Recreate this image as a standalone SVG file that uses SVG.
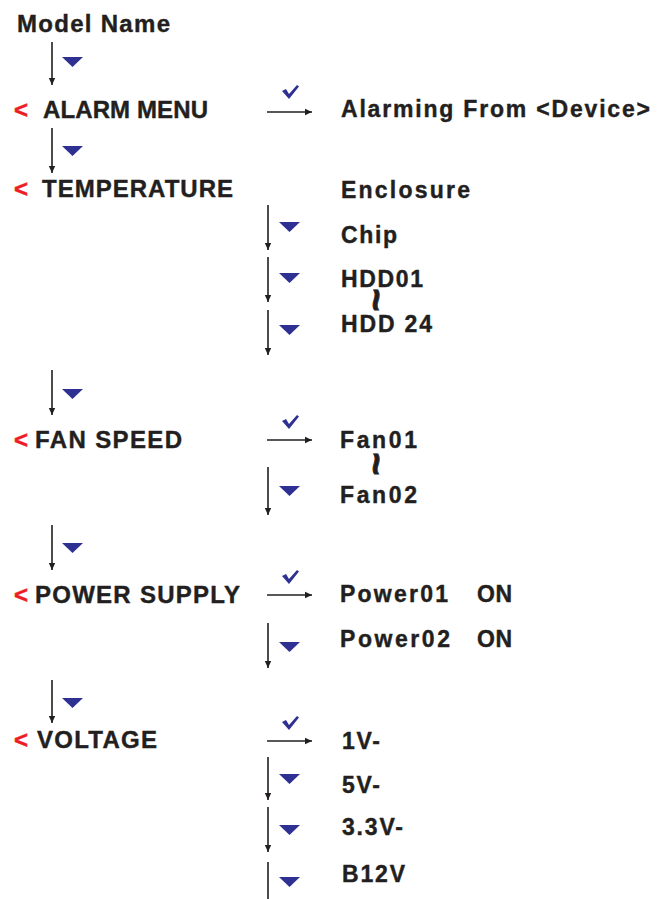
<svg xmlns="http://www.w3.org/2000/svg" width="657" height="899" viewBox="0 0 657 899">
<defs>
<style>
.t{font-family:"Liberation Sans",Arial,sans-serif;font-weight:bold;fill:#231f20;stroke:#231f20;stroke-width:0.4}
.L{font-size:24px}
.R{font-size:23px}
.lt{font-family:"Liberation Sans",Arial,sans-serif;font-weight:bold;font-size:24px;fill:#ed1c24;stroke:#ed1c24;stroke-width:0.5}
.sq{font-family:"Liberation Sans",Arial,sans-serif;font-weight:bold;font-size:40px;fill:#231f20;stroke:#231f20;stroke-width:0.8}
.c{stroke:#231f20;stroke-width:1.6;fill:none;marker-end:url(#ah)}
.tri{fill:#2e3192}
.chk{fill:#2e3192}
</style>
<marker id="ah" markerUnits="userSpaceOnUse" markerWidth="8" markerHeight="8" refX="7" refY="4" orient="auto">
<path d="M0,0.8 L7,4 L0,7.2 z" fill="#231f20"/>
</marker>
<polygon id="down" points="0,0 21,0 10.5,10" class="tri"/>
<path id="check" d="M0,6 L4,4 L7,9 L15,0 L17,1.5 L7,14 Z" class="chk"/>
</defs>
<rect width="657" height="899" fill="#ffffff"/>

<g id="connectors">
<line class="c" x1="52" y1="42" x2="52" y2="85"/>
<line class="c" x1="52" y1="128" x2="52" y2="173"/>
<line class="c" x1="52" y1="370" x2="52" y2="415"/>
<line class="c" x1="52" y1="525" x2="52" y2="570"/>
<line class="c" x1="52" y1="680" x2="52" y2="723"/>
<line class="c" x1="267" y1="112" x2="312" y2="112"/>
<line class="c" x1="267" y1="440" x2="312" y2="440"/>
<line class="c" x1="267" y1="595" x2="312" y2="595"/>
<line class="c" x1="267" y1="741" x2="312" y2="741"/>
<line class="c" x1="268" y1="205" x2="268" y2="250"/>
<line class="c" x1="268" y1="257" x2="268" y2="302"/>
<line class="c" x1="268" y1="310" x2="268" y2="355"/>
<line class="c" x1="268" y1="467" x2="268" y2="515"/>
<line class="c" x1="268" y1="623" x2="268" y2="668"/>
<line class="c" x1="268" y1="757" x2="268" y2="800"/>
<line class="c" x1="268" y1="807" x2="268" y2="852"/>
<line x1="268" y1="862" x2="268" y2="899" stroke="#231f20" stroke-width="1.6"/>
</g>

<g id="keys">
<use href="#down" x="62" y="57"/>
<use href="#down" x="62" y="146"/>
<use href="#down" x="62" y="389"/>
<use href="#down" x="62" y="543"/>
<use href="#down" x="62" y="698"/>
<use href="#down" x="279" y="222"/>
<use href="#down" x="279" y="273"/>
<use href="#down" x="279" y="325"/>
<use href="#down" x="279" y="486"/>
<use href="#down" x="279" y="642"/>
<use href="#down" x="279" y="774"/>
<use href="#down" x="279" y="825"/>
<use href="#down" x="279" y="877"/>
<use href="#check" x="282" y="85"/>
<use href="#check" x="282" y="415"/>
<use href="#check" x="282" y="570"/>
<use href="#check" x="282" y="716"/>
</g>

<g id="model-name"><text class="t L" x="17" y="32" textLength="153" lengthAdjust="spacing">Model Name</text></g>
<g id="alarm-menu"><text class="lt" x="14" y="118">&lt;</text><text class="t L" x="43" y="118" textLength="165" lengthAdjust="spacing">ALARM MENU</text></g>
<g id="temperature"><text class="lt" x="14" y="197">&lt;</text><text class="t L" x="42" y="197" textLength="191" lengthAdjust="spacing">TEMPERATURE</text></g>
<g id="fan-speed"><text class="lt" x="14" y="448">&lt;</text><text class="t L" x="35" y="448" textLength="147" lengthAdjust="spacing">FAN SPEED</text></g>
<g id="power-supply"><text class="lt" x="14" y="603">&lt;</text><text class="t L" x="35" y="603" textLength="205" lengthAdjust="spacing">POWER SUPPLY</text></g>
<g id="voltage"><text class="lt" x="14" y="748">&lt;</text><text class="t L" x="37" y="748" textLength="120" lengthAdjust="spacing">VOLTAGE</text></g>

<g id="alarming-from"><text class="t R" x="341" y="117" textLength="309" lengthAdjust="spacing">Alarming From &lt;Device&gt;</text></g>
<g id="enclosure"><text class="t R" x="341" y="198" textLength="129" lengthAdjust="spacing">Enclosure</text></g>
<g id="chip"><text class="t R" x="341" y="243" textLength="56" lengthAdjust="spacing">Chip</text></g>
<g id="hdd01"><text class="t R" x="341" y="287" textLength="82" lengthAdjust="spacing">HDD01</text></g>
<g id="hdd-range"><text class="sq" transform="translate(363,300) rotate(90)" text-anchor="middle">~</text></g>
<g id="hdd24"><text class="t R" x="341" y="332" textLength="91" lengthAdjust="spacing">HDD 24</text></g>
<g id="fan01"><text class="t R" x="340" y="448" textLength="77" lengthAdjust="spacing">Fan01</text></g>
<g id="fan-range"><text class="sq" transform="translate(363,464) rotate(90)" text-anchor="middle">~</text></g>
<g id="fan02"><text class="t R" x="340" y="503" textLength="77" lengthAdjust="spacing">Fan02</text></g>
<g id="power01"><text class="t R" x="340" y="602" textLength="108" lengthAdjust="spacing">Power01</text><text class="t R" x="477" y="602" textLength="35" lengthAdjust="spacing">ON</text></g>
<g id="power02"><text class="t R" x="340" y="647" textLength="110" lengthAdjust="spacing">Power02</text><text class="t R" x="477" y="647" textLength="35" lengthAdjust="spacing">ON</text></g>
<g id="v1"><text class="t R" x="342" y="749" textLength="38" lengthAdjust="spacing">1V-</text></g>
<g id="v5"><text class="t R" x="342" y="793" textLength="38" lengthAdjust="spacing">5V-</text></g>
<g id="v33"><text class="t R" x="342" y="835" textLength="61" lengthAdjust="spacing">3.3V-</text></g>
<g id="b12v"><text class="t R" x="342" y="882" textLength="63" lengthAdjust="spacing">B12V</text></g>
</svg>
